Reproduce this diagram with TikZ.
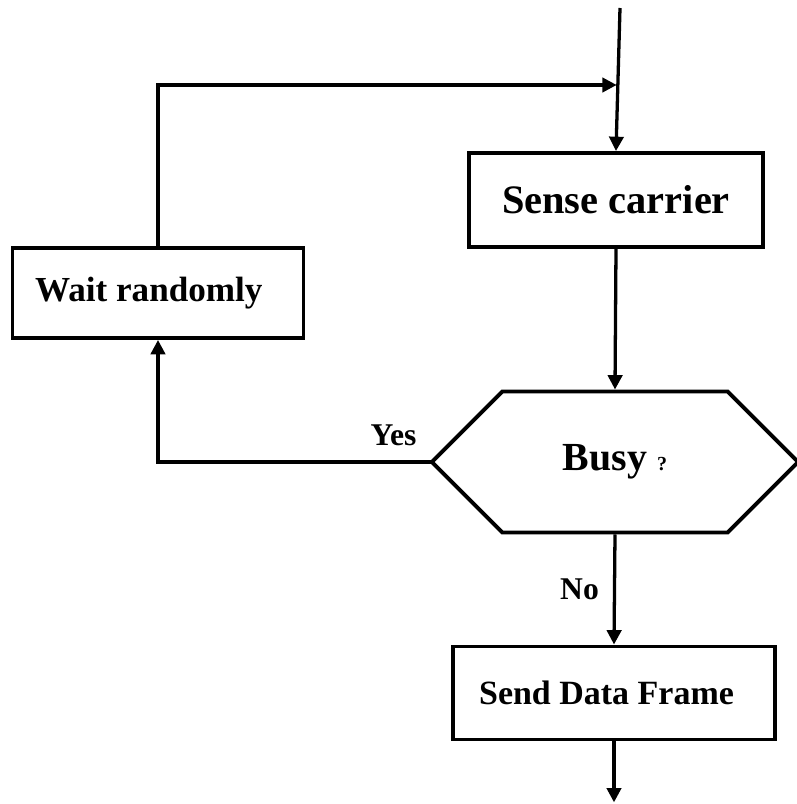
\documentclass[tikz,border=0pt]{standalone}
\usepackage{fontspec}
\setmainfont{Liberation Serif}
\usetikzlibrary{arrows.meta,shapes.misc}
\begin{document}
\begin{tikzpicture}[>={Triangle[length=0.43cm,width=0.43cm]},
  box/.style={draw,line width=3.4pt,font=\bfseries,inner sep=0pt},
  flow/.style={->,line width=2.8pt},
  lbl/.style={font=\fontsize{27}{30}\selectfont\bfseries,inner sep=0pt}]
\useasboundingbox (0,0) rectangle (23.91,24.12);
\node[box,minimum width=8.82cm,minimum height=2.82cm,font=\fontsize{34.5}{37}\selectfont\bfseries] (sense) at (18.48,18.12) {Sense carrier};
\node[box,minimum width=8.73cm,minimum height=2.7cm,font=\fontsize{30}{33}\selectfont\bfseries] (wait) at (4.74,15.33) {Wait randomly\kern0.55cm};
\node[box,chamfered rectangle,chamfered rectangle xsep=2.19cm,chamfered rectangle ysep=2.1cm,
  minimum width=10.92cm,minimum height=4.23cm,font=\fontsize{34}{37}\selectfont\bfseries] (busy) at (18.45,10.26) {Busy {\fontsize{17}{19}\selectfont ?}};
\node[box,minimum width=9.66cm,minimum height=2.79cm,font=\fontsize{29}{32}\selectfont\bfseries] (send) at (18.42,3.33) {Send Data Frame\kern0.45cm};
\coordinate (in) at (18.6,23.88);
\coordinate (join) at (18.5,21.57);
\coordinate (out) at (18.42,0.05);
\draw[flow] (in)--(sense.north);
\draw[flow] (wait.north) |- (join);
\draw[flow] (sense.south)--(busy.north);
\draw[flow] (busy.west) -| (wait.south) node[pos=0,anchor=south east,lbl,xshift=-0.39cm,yshift=0.45cm] {Yes};
\draw[flow] (busy.south)--(send.north) node[midway,left,lbl,xshift=-0.42cm] {No};
\draw[flow] (send.south)--(out);
\end{tikzpicture}
\end{document}
